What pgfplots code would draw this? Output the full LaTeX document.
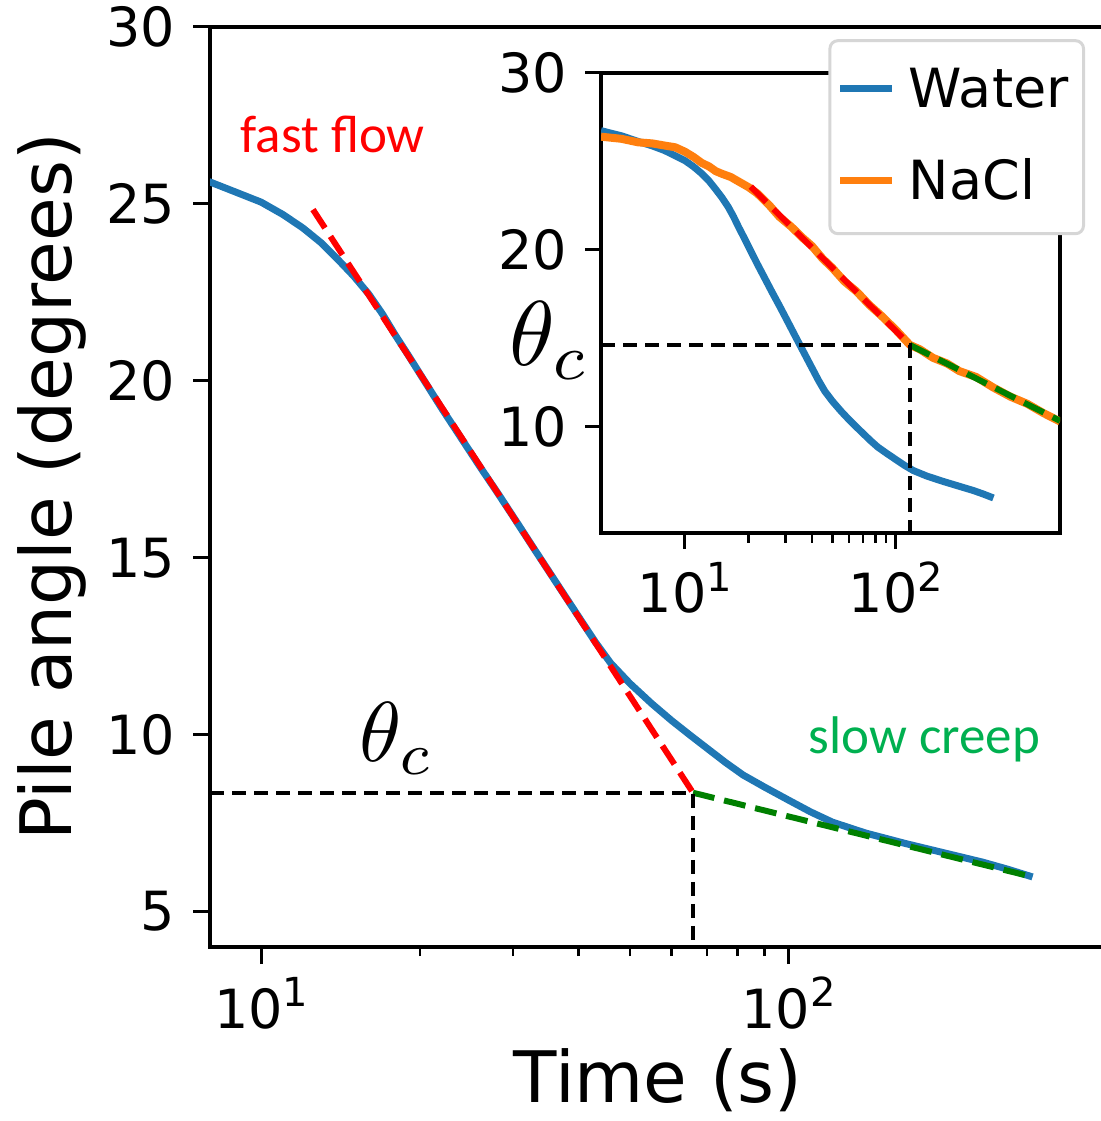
\documentclass[border=0pt]{standalone}
\usepackage{fontspec}
\setmainfont{DejaVu Sans}
\newfontfamily\carlito{Carlito}
\usepackage{pgfplots}
\pgfplotsset{compat=1.18}
\usepackage{pgfplotstable}

\definecolor{mplblue}{HTML}{1F77B4}
\definecolor{mplorange}{HTML}{FF7F0E}
\definecolor{mplgreen}{HTML}{008000}
\definecolor{txtgreen}{HTML}{00B050}
\definecolor{leggray}{HTML}{D6D6D6}

\newcommand\tenpow[1]{10\raisebox{0.4em}{\fontsize{40}{40}\selectfont #1}}

\pgfplotsset{
  myaxis/.style={
    scale only axis,
    axis line style={line width=3.5pt},
    tick align=outside,
    tick pos=left,
    major tick style={line width=3pt,black},
    minor tick style={line width=2.5pt,black},
    tick label style={font=\fontsize{54}{60}\selectfont},
    yticklabel style={anchor=east, inner sep=0pt, xshift=-18pt},
    xticklabel style={anchor=base, inner sep=0pt, yshift=-64pt},
  }
}

\pgfplotstableread{
t theta
4.0 26.74
5.0 26.45
6.0 26.13
7.0 25.88
8.0 25.62
9.0 25.32
10.0 25.05
11.0 24.70
12.0 24.32
13.0 23.90
14.0 23.42
15.0 22.95
16.0 22.45
17.0 21.88
18.0 21.27
19.0 20.73
20.0 20.20
22.0 19.22
24.0 18.36
26.0 17.57
28.0 16.86
30.0 16.18
33.0 15.23
36.0 14.37
40.0 13.33
43.0 12.62
46.0 12.02
50.0 11.45
55.0 10.88
60.0 10.40
65.0 9.99
70.0 9.62
76.0 9.21
82.0 8.86
90.0 8.52
100.0 8.15
110.0 7.82
121 7.53
140 7.22
167 6.92
196 6.67
233 6.40
260 6.20
290 5.98
}\water

\pgfplotstableread{
t theta
4.0 26.40
5.0 26.28
6.0 26.08
7.0 26.02
8.0 25.90
9.0 25.80
10.0 25.55
11.0 25.25
12.0 24.92
13.0 24.72
14.0 24.45
15.0 24.30
16.5 24.12
18.0 23.86
20.0 23.55
22.0 23.20
25.0 22.55
28.0 21.88
32.0 21.30
36.0 20.70
40.0 20.22
45.0 19.50
50.0 18.98
57.0 18.22
65.0 17.66
75.0 16.88
85.0 16.30
100.0 15.48
116.5 14.63
130 14.38
150 13.90
175 13.58
200 13.15
240 12.82
290 12.22
350 11.70
420 11.30
500 10.78
600 10.30
}\nacl

\begin{document}
\begin{tikzpicture}
\begin{axis}[myaxis, xmode=log,
  at={(0pt,0pt)}, anchor=south west,
  width=896.2pt, height=920pt,
  xmin=8, xmax=400, ymin=4, ymax=30,
  major tick length=17pt, minor tick length=9pt,
  xtick={10,100}, xticklabels={\tenpow{1},\tenpow{2}},
  ytick={5,10,15,20,25,30}, yticklabels={5,10,15,20,25,30},
  xlabel={Time (s)}, ylabel={Pile angle (degrees)},
  label style={font=\fontsize{71}{80}\selectfont, inner sep=0pt},
  xlabel style={at={(axis description cs:0.5,-0.1685)}, anchor=base},
  ylabel style={at={(axis description cs:-0.154,0.5)}, anchor=base},
]
\addplot[mplblue, line width=7pt, line join=round, no markers] table[x=t,y=theta] {\water};
\addplot[red, line width=6pt, dash pattern=on 22pt off 10pt, no markers] coordinates {(12.54,24.84) (65.87,8.36)};
\addplot[mplgreen, line width=6pt, dash pattern=on 22pt off 10pt, no markers] coordinates {(65.87,8.36) (290,5.98)};
\addplot[black, line width=4pt, dash pattern=on 14pt off 8pt, no markers] coordinates {(8,8.36) (65.87,8.36) (65.87,4)};
\node[anchor=base, text=red, font=\carlito\fontsize{53}{60}\selectfont] at (axis cs:13.67,26.44) {fast flow};
\node[anchor=base, text=txtgreen, font=\carlito\fontsize{53}{60}\selectfont] at (axis cs:181,9.46) {slow creep};
\node[anchor=base, scale=8.5, inner sep=0pt] at (axis cs:18.07,9.23) {$\theta_c$};
\node[anchor=base, scale=9.2, inner sep=0pt] at (axis cs:35.3,20.43) {$\theta_c$};
\end{axis}

\begin{axis}[myaxis, xmode=log,
  at={(391pt,414pt)}, anchor=south west,
  width=459pt, height=460pt,
  xmin=4, xmax=600, ymin=4, ymax=30,
  major tick length=16pt, minor tick length=10pt,
  axis background/.style={fill=white},
  xtick={10,100}, xticklabels={\tenpow{1},\tenpow{2}},
  ytick={10,20,30}, yticklabels={10,20,30},
  legend style={at={(axis description cs:1.0545,1.0735)}, anchor=north east,
    draw=leggray, line width=3pt, rounded corners=8pt, fill=white,
    font=\fontsize{54}{60}\selectfont,
    inner xsep=7pt, inner ysep=28pt, row sep=47pt, column sep=5pt,
    nodes={inner xsep=8pt, inner ysep=0pt, text height=39pt, text depth=6pt}},
  legend cell align=left,
  legend image code/.code={\draw[#1, line width=7pt] (0pt,3pt) -- (52pt,3pt);},
]
\addplot[mplblue, line width=7pt, line join=round, no markers] table[x=t,y=theta] {\water};
\addlegendentry{Water}
\addplot[mplorange, line width=8pt, line join=round, no markers] table[x=t,y=theta] {\nacl};
\addlegendentry{NaCl}
\addplot[red, line width=6pt, dash pattern=on 22pt off 10pt, no markers, forget plot] coordinates {(20.5,23.58) (116.5,14.63)};
\addplot[mplgreen, line width=6pt, dash pattern=on 22pt off 10pt, no markers, forget plot] coordinates {(116.5,14.63) (600,10.34)};
\addplot[black, line width=4pt, dash pattern=on 14pt off 8pt, no markers, forget plot] coordinates {(4,14.63) (116.5,14.63) (116.5,4)};
\end{axis}
\pgfresetboundingbox
\useasboundingbox (-210pt,-174pt) rectangle (890pt,947pt);
\end{tikzpicture}
\end{document}
